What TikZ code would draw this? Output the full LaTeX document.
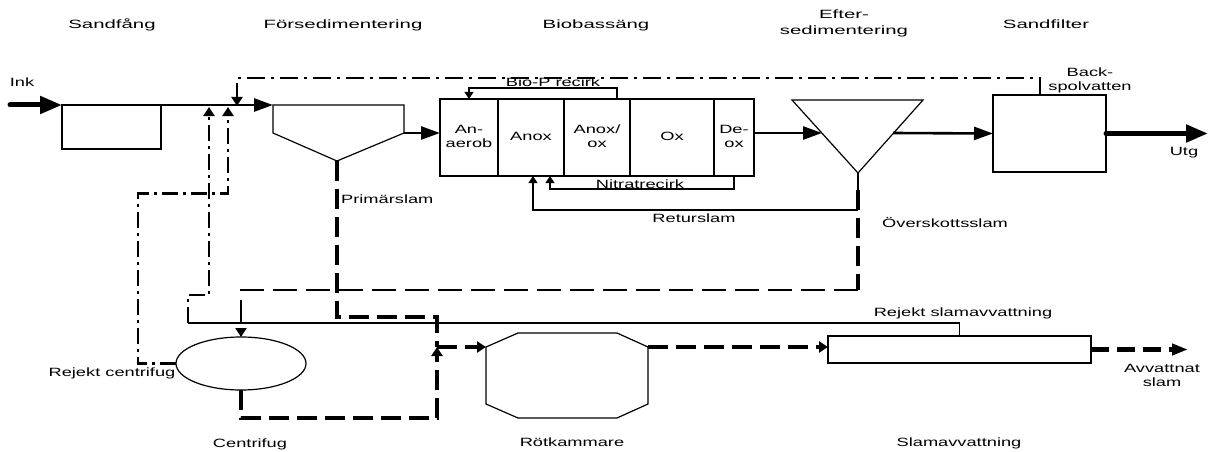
\documentclass[tikz,border=0pt]{standalone}
\usepackage{graphicx}
\usepackage{fontspec}
\setmainfont{Liberation Sans}
\usetikzlibrary{arrows.meta,positioning,shapes.geometric}

% labels of the scan are stretched sideways
\newcommand{\wtxt}[1]{\scalebox{1.52}[1]{\begin{tabular}{@{}c@{}}#1\end{tabular}}}
\newcommand{\htxt}[1]{\scalebox{1.7}[1]{\begin{tabular}{@{}c@{}}#1\end{tabular}}}

\begin{document}
\begin{tikzpicture}[
  x=1pt, y=-1pt,
  font=\fontsize{12}{14}\selectfont,
  box/.style={draw, line width=1.2pt, inner sep=0pt, outer sep=0pt},
  cell/.style={box, minimum height=77pt, align=center},
  lbl/.style={inner sep=0pt, align=center},
  head/.style={inner sep=0pt, align=center, font=\fontsize{12}{16}\selectfont},
  flow/.style={line width=2.6pt, -{Triangle[length=19pt, width=13pt]}},
  mainflow/.style={line width=5pt, line cap=round, -{Triangle[length=22pt, width=17pt]}},
  recirc/.style={line width=1.2pt, -{Triangle[length=7pt, width=9pt]}},
  reject/.style={line width=2.6pt, dash pattern=on 16pt off 5pt on 3pt off 5pt},
  backw/.style={line width=2pt, dash pattern=on 18pt off 6pt on 3pt off 6pt},
  sludge/.style={line width=3.2pt, dash pattern=on 20pt off 8pt},
  excess/.style={line width=2pt, dash pattern=on 24pt off 9pt},
  tip/.style={-{Triangle[length=9pt, width=11pt]}}
]
\useasboundingbox (0,0) rectangle (1211,452);

% headings
\node[head] (h1) at (112,25) {\htxt{Sandfång}};
\node[head] (h2) at (343,25) {\htxt{Försedimentering}};
\node[head] (h3) at (596,25) {\htxt{Biobassäng}};
\node[head] (h4) at (844,23) {\htxt{Efter-\\sedimentering}};
\node[head] (h5) at (1046,25) {\htxt{Sandfilter}};

% units
\node[box, minimum width=99pt, minimum height=44pt] (sand) at (111.5,127) {};
\draw[line width=1.2pt] (273,105) coordinate (fsTL) -- (404,105) -- (404,133) coordinate (fsR)
  -- (337,161) coordinate (fsB) -- (273,133) -- cycle;
\node[cell, minimum width=58pt] (bio1) at (469,137.5) {\wtxt{An-\\aerob}};
\node[cell, minimum width=66pt, right=0pt of bio1] (bio2) {\wtxt{Anox}};
\node[cell, minimum width=66pt, right=0pt of bio2] (bio3) {\wtxt{Anox/\\ox}};
\node[cell, minimum width=84pt, right=0pt of bio3] (bio4) {\wtxt{Ox}};
\node[cell, minimum width=40pt, right=0pt of bio4] (bio5) {\wtxt{De-\\ox}};
\draw[line width=1.2pt] (792,100) -- (923,100) -- (858,173) coordinate (esB) -- cycle;
\coordinate (esIn) at (822,133);
\coordinate (esOut) at (893,133);
\node[box, minimum width=113pt, minimum height=77pt] (filt) at (1049.5,133.5) {};
\node[box, ellipse, minimum width=130pt, minimum height=53pt] (cent) at (241,363.5) {};
\draw[line width=1.2pt] (486,347) coordinate (rotL) -- (518,333) -- (617,333)
  -- (648,347) coordinate (rotR) -- (648,404) -- (617,418) -- (518,418) -- (486,404) -- cycle;
\node[box, minimum width=263pt, minimum height=27pt] (dewat) at (959.5,349.5) {};

% junctions
\coordinate (j1) at (237,106);
\coordinate (j2) at (209,107);
\coordinate (j3) at (228,107);
\coordinate (j4) at (437,347);
\coordinate (rs) at (188,323);
\coordinate (es1) at (858,190);
\coordinate (ex) at (858,210);

% water line
\draw[mainflow] (10,105) -- (sand.north west);
\draw[flow] (sand.north east) -- (fsTL);
\draw[flow] (fsR) -- (fsR -| bio1.west);
\draw[flow] (bio5.east |- fsR) -- (esIn);
\draw[flow] (esOut) -- (filt.west);
\draw[mainflow] (filt.east) -- ++(102,0);

% recirculations
\draw[recirc] ([xshift=-13pt]bio3.north east) -- ++(0,-11) -| (bio1.north);
\draw[recirc] (bio5.south) -- ++(0,13) -| ([xshift=19pt]bio2.south);
\draw[recirc] (ex) -| ([xshift=2pt]bio2.south);

% backwash and reject water
\draw[backw, tip] ([xshift=-9.5pt]filt.north) -- ++(0,-17) -| (j1);
\draw[reject, tip] (cent.west) -- ++(-38,0) |- ++(90,-170) -- (j3);
\draw[line width=1.2pt] (dewat.north) |- (rs);
\draw[reject, tip] (rs) -- ++(0,-28) -| (j2);

% sludge
\draw[line width=1.2pt] (esB) -- (es1);
\draw[sludge] (es1) -- ++(0,100) coordinate (es2);
\draw[excess, tip] (es2) -| (cent.north);
\draw[sludge] (fsB) -- ++(0,156) -| (j4);
\draw[sludge, tip] (cent.south) -- ++(0,28) -| (j4);
\draw[sludge, tip] (j4) -- (rotL);
\draw[sludge, tip] (rotR) -- (dewat.west |- j4);
\draw[line width=4.5pt, dash pattern=on 18pt off 8pt, -{Triangle[length=16pt, width=11pt]}]
  (dewat.east) -- ++(97,0);

% labels
\node[lbl] (l1) at (22,84) {\wtxt{Ink}};
\node[lbl] (l2) at (553,83.5) {\wtxt{Bio-P recirk}};
\node[lbl] (l3) at (640,186) {\wtxt{Nitratrecirk}};
\node[lbl] (l4) at (694,219.5) {\wtxt{Returslam}};
\node[lbl, anchor=west] (l5) at (341,201) {\wtxt{Primärslam}};
\node[lbl, anchor=west] (l6) at (882,225) {\wtxt{Överskottsslam}};
\node[lbl] (l7) at (1090,81) {\wtxt{Back-\\spolvatten}};
\node[lbl] (l8) at (1184,153) {\wtxt{Utg}};
\node[lbl] (l9) at (963,313.5) {\wtxt{Rejekt slamavvattning}};
\node[lbl] (l10) at (112,373.5) {\wtxt{Rejekt centrifug}};
\node[lbl] (l11) at (1162,376.5) {\wtxt{Avvattnat\\slam}};
\node[lbl] (l12) at (250,445) {\wtxt{Centrifug}};
\node[lbl] (l13) at (572,444) {\wtxt{Rötkammare}};
\node[lbl] (l14) at (959,444) {\wtxt{Slamavvattning}};
\end{tikzpicture}
\end{document}
